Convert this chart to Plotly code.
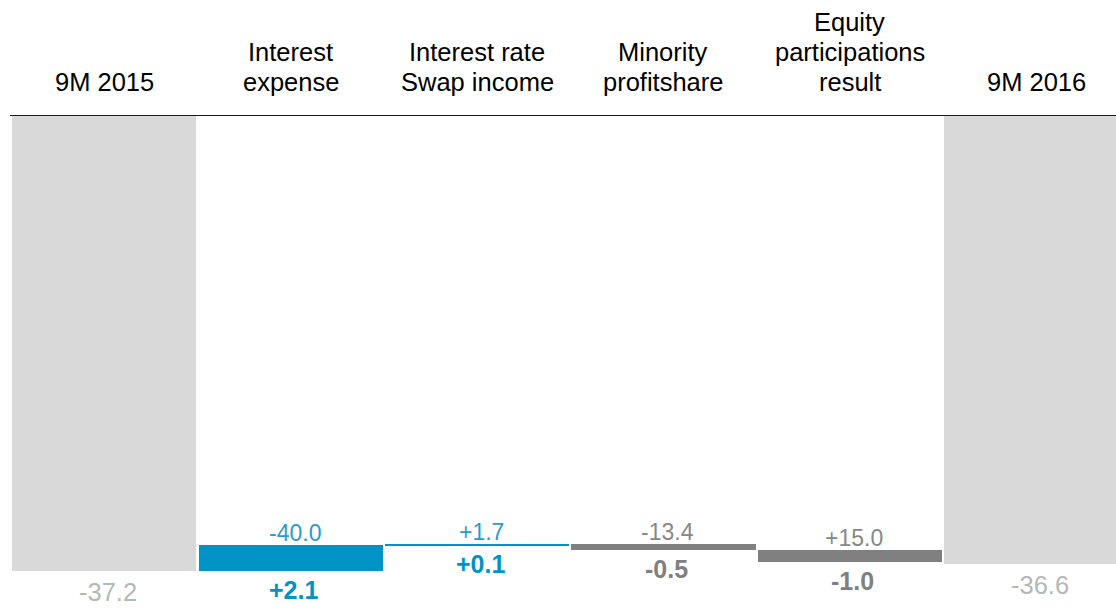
import plotly.graph_objects as go

# ---- data ----
categories = ["9M 2015", "Interest<br>expense", "Interest rate<br>Swap income",
              "Minority<br>profitshare", "Equity<br>participations<br>result", "9M 2016"]
start_value = -37.2
deltas = [2.1, 0.1, -0.5, -1.0]
end_value = -36.6
delta_labels = ["+2.1", "+0.1", "-0.5", "-1.0"]
change_labels = ["-40.0", "+1.7", "-13.4", "+15.0"]
total_labels = ["-37.2", "-36.6"]

# ---- styles ----
FONT = "Liberation Sans, Arial, sans-serif"
GRAY_TOTAL = "#d9d9d9"
BLUE = "#0093c6"
DARK = "#808080"
TOTAL_TXT = "#b3b9b3"
BLUE_TXT = "#2a9bd0"
GRAY_TXT = "#878787"

n = len(categories)
xs = list(range(n))

# waterfall geometry from data
bases = [0]
heights = [start_value]
colors = [GRAY_TOTAL]
level = start_value
for d in deltas:
    bases.append(level)
    heights.append(d)
    colors.append(BLUE if d > 0 else DARK)
    level += d
bases.append(0)
heights.append(end_value)
colors.append(GRAY_TOTAL)

fig = go.Figure()
fig.add_trace(go.Bar(
    x=xs, y=heights, base=bases, width=0.988,
    marker=dict(color=colors, line=dict(width=0)),
    hoverinfo="skip", showlegend=False,
))

ann = []
# category headers (one annotation per line, controlled spacing)
for i, cat in enumerate(categories):
    lines = cat.split("<br>")
    k = len(lines)
    for j, ln in enumerate(lines):
        shift = 33 + 30 * (k - 1 - j)
        ann.append(dict(x=i, y=1, xref="x", yref="paper", text=ln, showarrow=False,
                        yanchor="middle", xanchor="center", yshift=shift,
                        font=dict(family=FONT, size=25.5, color="#000000")))

# total labels
for idx, lab in zip([0, n - 1], total_labels):
    bottom = bases[idx] + heights[idx]
    ann.append(dict(x=idx, y=bottom, xref="x", yref="y", text=lab, showarrow=False,
                    yanchor="middle", yshift=-21, xshift=4, borderpad=0,
                    font=dict(family=FONT, size=25.5, color=TOTAL_TXT)))

# delta labels
for k in range(len(deltas)):
    i = k + 1
    lo = min(bases[i], bases[i] + heights[i])
    hi = max(bases[i], bases[i] + heights[i])
    pos = deltas[k] > 0
    ann.append(dict(x=i, y=lo, xref="x", yref="y", text="<b>%s</b>" % delta_labels[k],
                    showarrow=False, yanchor="middle", yshift=-19, xshift=3,
                    font=dict(family=FONT, size=25, color=BLUE if pos else DARK)))
    ann.append(dict(x=i, y=hi, xref="x", yref="y", text=change_labels[k],
                    showarrow=False, yanchor="middle", yshift=12, xshift=4,
                    font=dict(family=FONT, size=23, color=BLUE_TXT if pos else GRAY_TXT)))

fig.update_layout(
    width=1116, height=608,
    margin=dict(l=11, r=0, t=115, b=0),
    paper_bgcolor="white", plot_bgcolor="white",
    annotations=ann,
    shapes=[dict(type="line", xref="paper", yref="y", x0=-0.001, x1=1, y0=0, y1=0,
                 line=dict(color="#1a1a1a", width=2))],
    xaxis=dict(range=[-0.5, 5.428], visible=False, fixedrange=True),
    yaxis=dict(range=[-40.22, 0], visible=False, fixedrange=True),
    bargap=0,
)

fig.write_html("out.html", config={"displayModeBar": False})
